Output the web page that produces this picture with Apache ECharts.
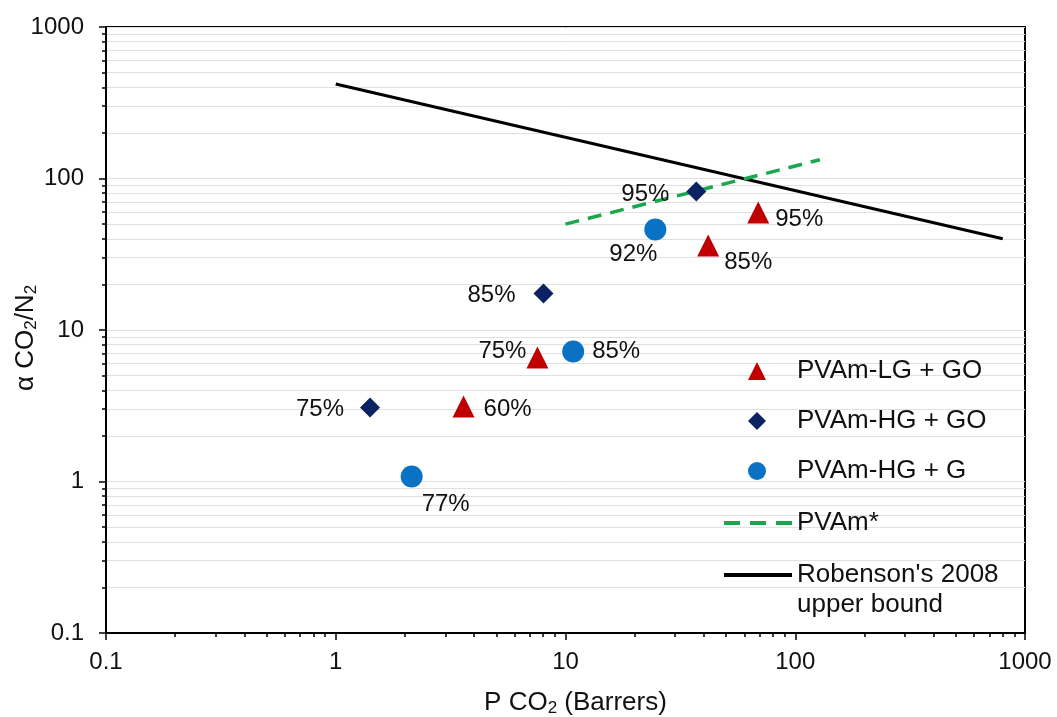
<!DOCTYPE html>
<html><head><meta charset="utf-8">
<script src="https://cdn.jsdelivr.net/npm/echarts@6/dist/echarts.min.js"></script>
<style>html,body{margin:0;padding:0;background:#fff}#c{width:1057px;height:717px}</style>
</head><body><div id="c"></div>
<script>
// ---- data ----
const seriesNames = ['PVAm-LG + GO', 'PVAm-HG + GO', 'PVAm-HG + G', 'PVAm*', "Robenson's 2008 upper bound"];
const lgX = [3.6, 7.55, 41.8, 69.0];
const lgY = [3.13, 6.58, 36.1, 59.7];
const lgLabels = ['60%', '75%', '85%', '95%'];
const hgX = [1.41, 8.02, 37.1];
const hgY = [3.08, 17.4, 82.1];
const hgLabels = ['75%', '85%', '95%'];
const gX = [2.14, 10.8, 24.6];
const gY = [1.08, 7.21, 46.1];
const gLabels = ['77%', '85%', '92%'];
const pvamX = [10, 128];
const pvamY = [50, 133];
const robX = [1, 800];
const robY = [420, 40];
const tickLabels = ['0.1', '1', '10', '100', '1000'];

// ---- label placement (style) ----
const lgPlace = [
  {position: 'right', distance: 9, offset: [0, 3]},
  {position: 'left', distance: 0, offset: [0, -6]},
  {position: 'right', distance: 5, offset: [0, 17]},
  {position: 'right', distance: 6, offset: [0, 7]}
];
const hgPlace = [
  {position: 'left', distance: 16, offset: [0, 2]},
  {position: 'left', distance: 18, offset: [0, 2]},
  {position: 'left', distance: 17, offset: [0, 3]}
];
const gPlace = [
  {position: 'right', distance: 0, offset: [-1, 28]},
  {position: 'right', distance: 8, offset: [0, 0]},
  {position: 'left', distance: 0, offset: [13, 25]}
];

const FONT = 'Liberation Sans, Arial, Helvetica, sans-serif';
function pts(xs, ys, labels, place) {
  return xs.map((x, i) => ({value: [x, ys[i]], name: labels ? labels[i] : '', label: place ? place[i] : undefined}));
}
const labelBase = {show: true, formatter: '{b}', color: '#111', fontSize: 24, fontFamily: FONT};

const chart = echarts.init(document.getElementById('c'));
const axisCommon = {
  type: 'log', logBase: 10, min: 0.1, max: 1000, interval: 1,
  axisLine: {show: true, lineStyle: {color: '#000', width: 2}},
  axisTick: {show: true, inside: false, length: 7, lineStyle: {color: '#000', width: 1.5}},
  minorTick: {show: true, splitNumber: 9, length: 4, lineStyle: {color: '#000', width: 1.5}},
  axisLabel: {color: '#111', fontSize: 24, fontFamily: FONT,
    formatter: v => { const i = Math.round(Math.log10(v)) + 1; return tickLabels[i] !== undefined ? tickLabels[i] : ''; }},
  nameLocation: 'middle',
  nameMoveOverlap: false
};
const hiddenDot = {color: 'rgba(0,0,0,0)', borderWidth: 0};
const legendText = {color: '#111', fontSize: 26, fontFamily: FONT};
chart.setOption({
  animation: false,
  backgroundColor: '#fff',
  grid: {left: 106, right: 32, top: 27, bottom: 84, show: true, borderColor: '#000', borderWidth: 2,
    backgroundColor: 'transparent', outerBoundsMode: 'none', containLabel: false},
  xAxis: Object.assign({}, axisCommon, {
    splitLine: {show: false}, minorSplitLine: {show: false},
    axisLabel: Object.assign({}, axisCommon.axisLabel, {margin: 17}),
    name: 'P CO{sub|2} (Barrers)', nameGap: 55,
    nameTextStyle: {color: '#111', fontSize: 26, fontFamily: FONT, padding: [0, 0, 0, 20],
      rich: {sub: {fontSize: 17, fontFamily: FONT, color: '#111', padding: [12, 0, 0, 0]}}}
  }),
  yAxis: Object.assign({}, axisCommon, {
    splitLine: {show: true, lineStyle: {color: '#e0e0e0', width: 1}},
    minorSplitLine: {show: true, lineStyle: {color: '#e0e0e0', width: 1}},
    axisLabel: Object.assign({}, axisCommon.axisLabel, {margin: 22}),
    name: 'α CO{sub|2}/N{sub|2}', nameGap: 66,
    nameTextStyle: {color: '#111', fontSize: 26, fontFamily: FONT, padding: [0, 16, 0, 0],
      rich: {sub: {fontSize: 17, fontFamily: FONT, color: '#111', padding: [12, 0, 0, 0]}}}
  }),
  legend: [{
    orient: 'vertical', left: 748, top: 358, padding: 0, itemGap: 24,
    itemWidth: 18, itemHeight: 18,
    formatter: n => '{s|}' + n,
    textStyle: Object.assign({}, legendText, {rich: {s: {width: 26}}}),
    data: [seriesNames[0], seriesNames[1], seriesNames[2]]
  }, {
    orient: 'vertical', left: 722, top: 510, padding: 0,
    itemWidth: 68, itemHeight: 16,
    textStyle: legendText,
    data: [{name: seriesNames[3], itemStyle: hiddenDot, lineStyle: {width: 4, type: [16, 10]}}]
  }, {
    orient: 'vertical', left: 722, top: 530, padding: 0,
    itemWidth: 68, itemHeight: 16,
    formatter: () => " \nRobenson's 2008\nupper bound",
    textStyle: Object.assign({}, legendText, {lineHeight: 30}),
    data: [{name: seriesNames[4], itemStyle: hiddenDot, lineStyle: {width: 4}}]
  }],
  series: [
    {name: seriesNames[4], type: 'line', symbol: 'none', data: robX.map((x, i) => [x, robY[i]]),
      lineStyle: {color: '#000', width: 3}, itemStyle: {color: '#000'}, z: 2},
    {name: seriesNames[3], type: 'line', symbol: 'none', data: pvamX.map((x, i) => [x, pvamY[i]]),
      lineStyle: {color: '#19a84e', width: 3.5, type: [14, 9]}, itemStyle: {color: '#19a84e'}, z: 3},
    {name: seriesNames[0], type: 'scatter', symbol: 'triangle', symbolSize: 22,
      itemStyle: {color: '#c00000', opacity: 1}, label: labelBase, data: pts(lgX, lgY, lgLabels, lgPlace), z: 5},
    {name: seriesNames[1], type: 'scatter', symbol: 'diamond', symbolSize: 20,
      itemStyle: {color: '#0b2363', opacity: 1}, label: labelBase, data: pts(hgX, hgY, hgLabels, hgPlace), z: 5},
    {name: seriesNames[2], type: 'scatter', symbol: 'circle', symbolSize: 22,
      itemStyle: {color: '#0a72c4', opacity: 1}, label: labelBase, data: pts(gX, gY, gLabels, gPlace), z: 5}
  ]
});
</script></body></html>
